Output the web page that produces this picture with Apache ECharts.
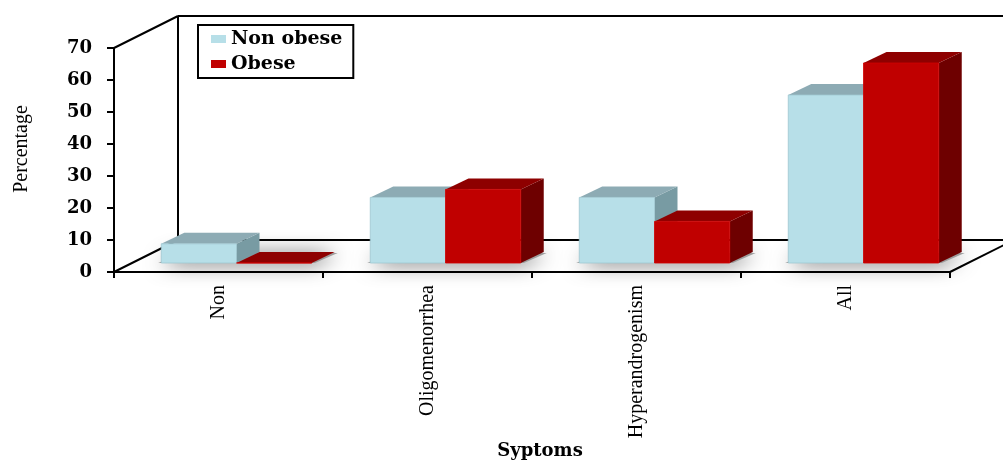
<!DOCTYPE html>
<html><head><meta charset="utf-8">
<script src="https://cdn.jsdelivr.net/npm/echarts@6/dist/echarts.min.js"></script>
<style>html,body{margin:0;padding:0;background:#fff}#c{width:1003px;height:461px}</style>
</head><body><div id="c"></div>
<script>
const categories = ['Non', 'Oligomenorrhea', 'Hyperandrogenism', 'All'];
const nonObese = [6, 20.5, 20.5, 52.5];
const obese = [0, 23, 13, 62.5];
const seriesNames = ['Non obese', 'Obese'];
const yMin = 0, yMax = 70, yStep = 10;

const faceColors = [
  {front: '#B7DFE8', top: '#8DABB4', side: '#789BA3'},
  {front: '#C00000', top: '#8E0000', side: '#6E0000'}
];
const SHIFT_X = 18, SHIFT_Y = -9;   // bars sit a little behind the front plane
const DX = 23, DY = -11;            // bar depth
const WALL_DX = 64, WALL_DY = -32;  // full depth of the box
const BAR_RATIO = 0.36;

function barRenderer(idx) {
  return function (params, api) {
    const ci = api.value(0), v = api.value(1);
    const base = api.coord([ci, 0]);
    const top = api.coord([ci, v]);
    const slot = api.size([1, 0])[0];
    const bw = slot * BAR_RATIO;
    const x0 = base[0] + SHIFT_X + (idx === 0 ? -bw : 0);
    const yb = base[1] + SHIFT_Y, yt = top[1] + SHIFT_Y;
    const c = faceColors[idx];
    return {
      type: 'group',
      children: [
        {type: 'polygon', shape: {points: [[x0 + bw, yt], [x0 + bw + DX, yt + DY], [x0 + bw + DX, yb + DY], [x0 + bw, yb]]}, style: {fill: c.side}},
        {type: 'polygon', shape: {points: [[x0, yt], [x0 + DX, yt + DY], [x0 + bw + DX, yt + DY], [x0 + bw, yt]]}, style: {fill: c.top}},
        {type: 'polygon', shape: {points: [[x0, yt], [x0 + bw, yt], [x0 + bw, yb], [x0, yb]]}, style: {fill: c.front, stroke: idx === 0 ? '#9FC8D2' : '#D00000', lineWidth: 0.8}}
      ]
    };
  };
}

function shadowRender(params, api) {
  const ci = api.value(0);
  const base = api.coord([ci, 0]);
  const slot = api.size([1, 0])[0];
  const bw = slot * BAR_RATIO;
  const xl = base[0] + SHIFT_X - bw, xr = base[0] + SHIFT_X + bw;
  const yb = base[1] + SHIFT_Y;
  return {
    type: 'polygon',
    shape: {points: [[xl - 3, yb], [xl + DX - 3, yb + DY + 1], [xr + DX + 3, yb + DY + 1], [xr + 3, yb]]},
    style: {fill: 'rgba(150,150,150,0.9)', shadowBlur: 20, shadowOffsetY: 1, shadowColor: 'rgba(0,0,0,0.75)'}
  };
}

function frameRender(params, api) {
  const cs = params.coordSys;
  const gx = cs.x, gy = cs.y, gw = cs.width, gh = cs.height;
  const st = {stroke: '#000', lineWidth: 2, fill: null};
  const line = (a, b) => ({type: 'line', shape: {x1: a[0], y1: a[1], x2: b[0], y2: b[1]}, style: st});
  const bx = gx + WALL_DX, by = gy + WALL_DY, bby = gy + gh + WALL_DY;
  return {
    type: 'group',
    children: [
      line([gx, gy], [bx, by]),
      line([gx, gy + gh], [bx, bby]),
      line([bx, by], [bx, bby]),
      line([bx, by], [gx + gw + WALL_DX, by]),
      line([bx, bby], [gx + gw + WALL_DX, bby]),
      line([gx + gw, gy + gh], [gx + gw + WALL_DX, bby]),
      line([gx + gw + WALL_DX, by], [gx + gw + WALL_DX, bby])
    ]
  };
}

const chart = echarts.init(document.getElementById('c'), null, {renderer: 'canvas'});
chart.setOption({
  backgroundColor: '#fff',
  animation: false,
  grid: {left: 114, right: 53, top: 48, bottom: 189, containLabel: false, outerBoundsMode: 'none'},
  legend: {
    data: seriesNames,
    orient: 'vertical',
    left: 198, top: 25,
    padding: [4, 11, 4, 13],
    itemGap: 5,
    itemWidth: 15, itemHeight: 8,
    icon: 'rect',
    borderColor: '#000', borderWidth: 2,
    textStyle: {fontFamily: 'DejaVu Serif', fontWeight: 'bold', fontSize: 19, color: '#000', lineHeight: 20}
  },
  xAxis: {
    type: 'category',
    data: categories,
    name: 'Syptoms',
    nameLocation: 'middle',
    nameGap: 170,
    nameTextStyle: {fontFamily: 'DejaVu Serif', fontWeight: 'bold', fontSize: 18, color: '#000', padding: [0, 0, 0, 16]},
    axisLine: {show: true, lineStyle: {color: '#000', width: 2}},
    axisTick: {show: true, length: 6, lineStyle: {color: '#000', width: 2}},
    axisLabel: {rotate: 90, margin: 13, fontFamily: 'Liberation Serif', fontSize: 20, color: '#000'},
    splitLine: {show: false}
  },
  yAxis: {
    type: 'value',
    min: yMin, max: yMax, interval: yStep,
    name: 'Percentage',
    nameLocation: 'middle',
    nameGap: 82,
    nameTextStyle: {fontFamily: 'Liberation Serif', fontSize: 20, color: '#000', padding: [0, 0, 0, 22]},
    axisLine: {show: true, lineStyle: {color: '#000', width: 2}},
    axisTick: {show: true, length: 7, lineStyle: {color: '#000', width: 2}},
    axisLabel: {margin: 22, fontFamily: 'DejaVu Serif', fontWeight: 'bold', fontSize: 18, color: '#000'},
    splitLine: {show: false}
  },
  series: [
    {type: 'custom', name: 'frame', renderItem: frameRender, data: [[0, 0]], clip: false, silent: true, z: 1},
    {type: 'custom', name: 'shadow', renderItem: shadowRender, data: categories.map((c, i) => [i, Math.max(nonObese[i], obese[i])]), clip: false, silent: true, z: 2},
    {type: 'custom', name: seriesNames[0], renderItem: barRenderer(0), itemStyle: {color: faceColors[0].front}, data: nonObese.map((v, i) => [i, v]), clip: false, z: 3},
    {type: 'custom', name: seriesNames[1], renderItem: barRenderer(1), itemStyle: {color: faceColors[1].front}, data: obese.map((v, i) => [i, v]), clip: false, z: 4}
  ]
});
</script>
</body></html>
